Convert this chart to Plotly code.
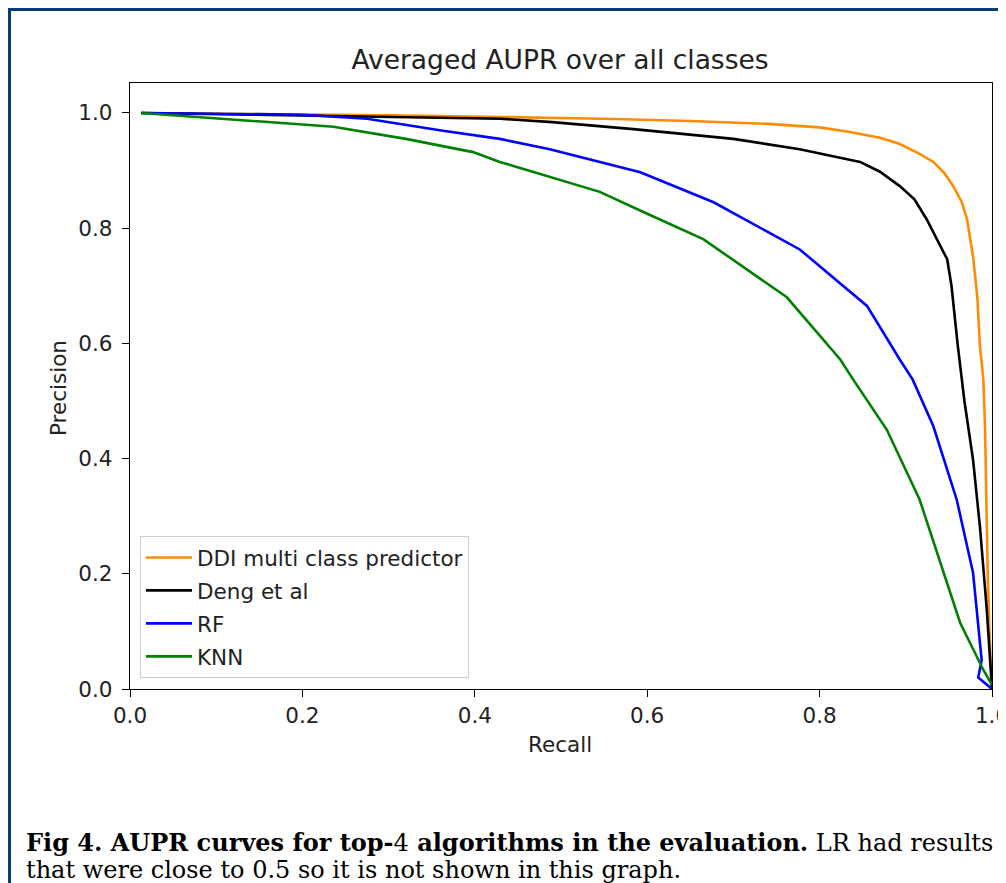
import plotly.graph_objects as go

# ---------------- data ----------------
series_names = ["DDI multi class predictor", "Deng et al", "RF", "KNN"]
series_colors = ["#ff8c00", "#000000", "#0000ff", "#008000"]

recall_ddi = [0.013, 0.1, 0.2, 0.3, 0.43, 0.55, 0.65, 0.74, 0.80, 0.835, 0.87, 0.893, 0.915,
              0.932, 0.945, 0.955, 0.965, 0.971, 0.978, 0.983, 0.986, 0.99, 0.992, 0.993,
              0.995, 0.997, 1.0]
precision_ddi = [1.0, 0.999, 0.998, 0.996, 0.993, 0.99, 0.986, 0.981, 0.975, 0.967, 0.957, 0.946,
                 0.93, 0.915, 0.895, 0.873, 0.845, 0.816, 0.751, 0.68, 0.595, 0.537, 0.45, 0.35,
                 0.2, 0.1, 0.0]

recall_deng = [0.013, 0.1, 0.2, 0.3, 0.43, 0.49, 0.584, 0.70, 0.777, 0.847, 0.87, 0.893, 0.91,
               0.924, 0.94, 0.948, 0.953, 0.96, 0.968, 0.978, 0.986, 0.994, 1.0]
precision_deng = [1.0, 0.998, 0.996, 0.994, 0.99, 0.984, 0.972, 0.955, 0.937, 0.915, 0.898, 0.873,
                  0.85, 0.816, 0.77, 0.746, 0.70, 0.60, 0.50, 0.398, 0.282, 0.137, 0.0]

recall_rf = [0.013, 0.1, 0.2, 0.275, 0.363, 0.429, 0.487, 0.592, 0.677, 0.777, 0.855, 0.893,
             0.908, 0.932, 0.959, 0.978, 0.988, 0.984, 0.99, 1.0]
precision_rf = [1.0, 0.999, 0.997, 0.99, 0.969, 0.955, 0.937, 0.897, 0.845, 0.763, 0.665, 0.572,
                0.537, 0.456, 0.329, 0.202, 0.05, 0.02, 0.012, 0.0]

recall_knn = [0.013, 0.1, 0.236, 0.32, 0.398, 0.429, 0.487, 0.545, 0.60, 0.665, 0.762, 0.824,
              0.839, 0.878, 0.916, 0.951, 0.963, 0.99, 1.0]
precision_knn = [1.0, 0.991, 0.976, 0.955, 0.932, 0.915, 0.889, 0.863, 0.825, 0.781, 0.680,
                 0.572, 0.537, 0.450, 0.329, 0.167, 0.115, 0.033, 0.007]

tick_values = [0.0, 0.2, 0.4, 0.6, 0.8, 1.0]
tick_labels = ["0.0", "0.2", "0.4", "0.6", "0.8", "1.0"]

title_text = "Averaged AUPR over all classes"
x_label = "Recall"
y_label = "Precision"
caption_line1 = ("<b>Fig 4. AUPR curves for top-</b>4<b> algorithms in the evaluation.</b>"
                 " LR had results")
caption_line2 = "that were close to 0.5 so it is not shown in this graph."

# ---------------- layout geometry ----------------
# The page body has an 8px margin, so figure pixels = page pixels - 8.
OFF = 8
W, H = 1006 - OFF, 883 - OFF
L, R, T, B = 130 - OFF, 992 - OFF, 83 - OFF, 689 - OFF  # plot area edges (figure px)


def px_x(page_px):
    return (page_px - OFF - L) / (R - L)


def px_y(page_px):
    return (B - (page_px - OFF)) / (B - T)


fig = go.Figure()
curves = [(recall_ddi, precision_ddi), (recall_deng, precision_deng),
          (recall_rf, precision_rf), (recall_knn, precision_knn)]
for i, ((xs, ys), name, col) in enumerate(zip(curves, series_names, series_colors)):
    fig.add_trace(go.Scatter(x=xs, y=ys, mode="lines", name=name,
                             line=dict(color=col, width=2.6), legendgroup=f"g{i}"))

font_main = "DejaVu Sans"
axis_common = dict(showline=True, linecolor="#000000", linewidth=1.3, mirror=True,
                   ticks="outside", ticklen=7, tickwidth=1.3, tickcolor="#000000",
                   showgrid=False, zeroline=False, automargin=False,
                   tickfont=dict(family=font_main, size=21.5, color="#222222"),
                   tickvals=tick_values, ticktext=tick_labels)

fig.update_layout(
    width=W, height=H,
    margin=dict(l=L, r=W - R, t=T, b=H - B, pad=0, autoexpand=False),
    paper_bgcolor="white", plot_bgcolor="white",
    title=dict(text=title_text, x=px_x(560), xref="paper", xanchor="center",
               y=1 - (60 - OFF) / H, yref="container", yanchor="middle",
               font=dict(family=font_main, size=26.5, color="#222222")),
    xaxis=dict(range=[0, 1], ticklabelstandoff=0, ticklabeloverflow="allow", **axis_common),
    yaxis=dict(range=[0, 1.052], ticklabelstandoff=5, **axis_common),
    showlegend=True,
    legend=dict(x=px_x(140), y=px_y(536), xanchor="left", yanchor="top",
                bgcolor="rgba(255,255,255,0.85)", bordercolor="#cccccc", borderwidth=1,
                font=dict(family=font_main, size=21.5, color="#222222"),
                tracegroupgap=2, itemwidth=46),
)

# axis titles as annotations
fig.add_annotation(text=x_label, x=px_x(560), y=px_y(744), xref="paper", yref="paper",
                   showarrow=False, xanchor="center", yanchor="middle",
                   font=dict(family=font_main, size=21.5, color="#222222"))
fig.add_annotation(text=y_label, x=px_x(59), y=px_y(388), xref="paper", yref="paper",
                   showarrow=False, textangle=-90, xanchor="center", yanchor="middle",
                   font=dict(family=font_main, size=21.5, color="#222222"))

# caption
cap_font = dict(family="DejaVu Serif", size=24, color="#000000")
fig.add_annotation(text=caption_line1, x=px_x(24), y=px_y(842), xref="paper", yref="paper",
                   showarrow=False, xanchor="left", yanchor="middle", font=cap_font)
fig.add_annotation(text=caption_line2, x=px_x(24), y=px_y(870), xref="paper", yref="paper",
                   showarrow=False, xanchor="left", yanchor="middle", font=cap_font)

# outer frame (top and left navy rules)
frame_col = "#0b3a6e"
fig.add_shape(type="line", xref="paper", yref="paper", x0=px_x(8), x1=px_x(1012),
              y0=px_y(9.5), y1=px_y(9.5), line=dict(color=frame_col, width=3))
fig.add_shape(type="line", xref="paper", yref="paper", x0=px_x(9.5), x1=px_x(9.5),
              y0=px_y(8), y1=px_y(892), line=dict(color=frame_col, width=3))

fig.write_html("out.html")
